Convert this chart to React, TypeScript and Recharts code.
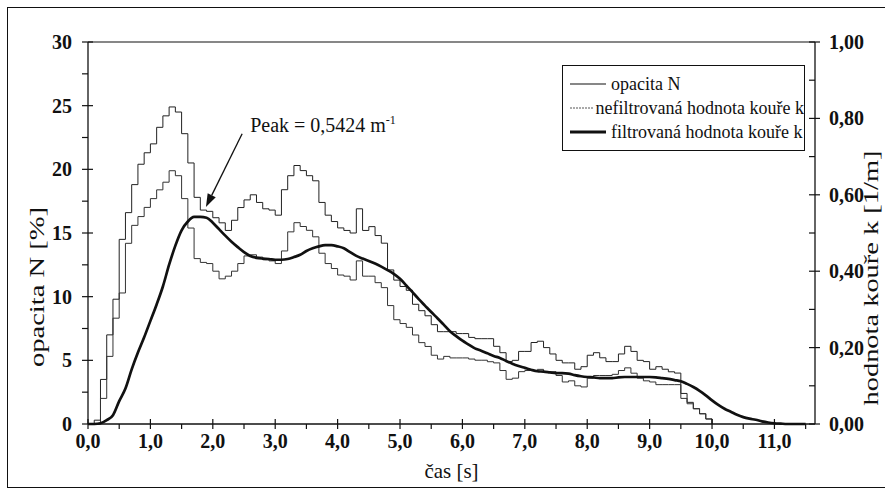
import React from 'react'
import { ComposedChart, Line, XAxis, YAxis, Legend, ReferenceLine, Label } from 'recharts'

// time grid step in seconds
const STEP = 0.1

// opacita N [%], read every 0.1 s
const opacityN = [
  0, 0.3, 3.5, 7.0, 9.8, 14.5, 16.6, 18.8, 20.4, 21.3,
  22.0, 23.3, 24.2, 24.9, 24.5, 22.8, 20.5, 17.8, 16.8, 16.7,
  16.2, 15.8, 15.2, 16.0, 17.0, 17.6, 18.0, 17.4, 16.9, 16.8,
  16.4, 18.4, 19.5, 20.3, 19.9, 19.5, 19.1, 17.4, 16.4, 15.9,
  15.4, 15.2, 15.0, 16.9, 15.2, 15.5, 14.8, 14.2, 12.1, 11.3,
  10.8, 10.5, 9.4, 8.9, 8.5, 7.8, 7.25, 7.25, 7.25, 7.1,
  7.1, 6.8, 6.7, 6.7, 6.7, 6.1, 5.6, 4.9, 5.0, 5.7,
  5.7, 6.4, 6.5, 6.0, 5.5, 5.0, 4.8, 4.8, 4.3, 4.5,
  5.4, 5.6, 5.2, 4.9, 4.9, 5.5, 6.1, 5.7, 5.0, 4.9,
  4.3, 4.5, 4.3, 4.1, 4.0, 2.4, 1.7, 1.2, 0.8, 0.4,
  0,
]

// nefiltrovaná hodnota kouře k [1/m]
const kRaw = [
  0, 0, 0.067, 0.177, 0.277, 0.343, 0.473, 0.520, 0.543, 0.567,
  0.590, 0.613, 0.633, 0.663, 0.650, 0.590, 0.513, 0.433, 0.423, 0.420,
  0.400, 0.380, 0.387, 0.400, 0.420, 0.440, 0.443, 0.437, 0.430, 0.427,
  0.420, 0.453, 0.503, 0.527, 0.517, 0.507, 0.490, 0.447, 0.420, 0.407,
  0.390, 0.387, 0.377, 0.427, 0.387, 0.387, 0.370, 0.357, 0.310, 0.273,
  0.263, 0.253, 0.233, 0.213, 0.203, 0.180, 0.170, 0.177, 0.173, 0.173,
  0.173, 0.170, 0.167, 0.167, 0.163, 0.160, 0.140, 0.117, 0.120, 0.137,
  0.140, 0.140, 0.143, 0.137, 0.137, 0.127, 0.110, 0.113, 0.100, 0.097,
  0.120, 0.127, 0.127, 0.127, 0.130, 0.140, 0.147, 0.133, 0.120, 0.113,
  0.110, 0.103, 0.103, 0.103, 0.103, 0.067, 0.053, 0.040, 0.027, 0.013,
  0,
]

// filtrovaná hodnota kouře k [1/m]
const kFiltered = [
  0, 0, 0.002, 0.010, 0.023, 0.060, 0.093, 0.143, 0.187, 0.227,
  0.270, 0.313, 0.360, 0.417, 0.467, 0.507, 0.530, 0.542, 0.5424, 0.540,
  0.527, 0.510, 0.493, 0.477, 0.463, 0.450, 0.440, 0.435, 0.433, 0.432,
  0.430, 0.430, 0.432, 0.437, 0.443, 0.453, 0.460, 0.465, 0.468, 0.468,
  0.465, 0.460, 0.450, 0.440, 0.433, 0.427, 0.420, 0.412, 0.403, 0.393,
  0.380, 0.363, 0.345, 0.327, 0.310, 0.293, 0.277, 0.260, 0.243, 0.230,
  0.218, 0.208, 0.198, 0.192, 0.185, 0.178, 0.173, 0.165, 0.158, 0.152,
  0.147, 0.142, 0.138, 0.137, 0.135, 0.133, 0.133, 0.132, 0.128, 0.125,
  0.123, 0.122, 0.120, 0.120, 0.120, 0.122, 0.123, 0.123, 0.123, 0.123,
  0.123, 0.122, 0.120, 0.118, 0.115, 0.112, 0.105, 0.097, 0.087, 0.075,
  0.062, 0.050, 0.040, 0.032, 0.024, 0.018, 0.014, 0.011, 0.007, 0.004,
  0.002, 0.001, 0, 0, 0, 0,
]

const xTicks = [0, 0.5, 1, 1.5, 2, 2.5, 3, 3.5, 4, 4.5, 5, 5.5, 6, 6.5, 7, 7.5, 8, 8.5, 9, 9.5, 10, 10.5, 11, 11.5]
const leftTicks = [0, 2.5, 5, 7.5, 10, 12.5, 15, 17.5, 20, 22.5, 25, 27.5, 30]
const rightTicks = [0, 0.1, 0.2, 0.3, 0.4, 0.5, 0.6, 0.7, 0.8, 0.9, 1]

const seriesNames = ['opacita N', 'nefiltrovaná hodnota kouře k', 'filtrovaná hodnota kouře k']
const peakLabel = 'Peak = 0,5424 m'
// arrow from the label down to the filtered peak (t [s], k [1/m])
const peakArrow = [{ x: 2.47, y: 0.76 }, { x: 1.89, y: 0.568 }]

const data = kFiltered.map((kf, i) => ({
  t: Math.round(i * STEP * 10) / 10,
  n: opacityN[i] ?? null,
  kr: kRaw[i] ?? null,
  kf,
}))

const FONT = '"Liberation Serif", "Times New Roman", serif'
const INK = '#111'

const comma = (v: number, d: number) => v.toFixed(d).replace('.', ',')
const isMult = (v: number, m: number) => Math.abs(v / m - Math.round(v / m)) < 1e-6

function XTick({ x, y, payload }: any) {
  const v = payload.value
  const major = isMult(v, 1)
  return (
    <g>
      <line x1={x} x2={x} y1={major ? y - 5 : y} y2={y + 5} stroke={INK} strokeWidth={1.2} />
      {major && (
        <text x={x} y={y + 24} textAnchor="middle" fontFamily={FONT} fontSize={20} fontWeight="bold" fill={INK}>
          {comma(v, 1)}
        </text>
      )}
    </g>
  )
}

function LeftTick({ x, y, payload }: any) {
  const v = payload.value
  const major = isMult(v, 5)
  return (
    <g>
      <line x1={x - 6} x2={major ? x + 5 : x} y1={y} y2={y} stroke={INK} strokeWidth={1.2} />
      {major && (
        <text x={x - 16} y={y + 7} textAnchor="end" fontFamily={FONT} fontSize={20} fontWeight="bold" fill={INK}>
          {v}
        </text>
      )}
    </g>
  )
}

function RightTick({ x, y, payload }: any) {
  const v = payload.value
  const major = isMult(v, 0.2)
  return (
    <g>
      <line x1={x - 6} x2={major ? x + 5 : x} y1={y} y2={y} stroke={INK} strokeWidth={1.2} />
      {major && (
        <text x={x + 14} y={y + 7} textAnchor="start" fontFamily={FONT} fontSize={20} fontWeight="bold" fill={INK}>
          {comma(v, 2)}
        </text>
      )}
    </g>
  )
}

function PeakArrow({ x1, y1, x2, y2 }: any) {
  const ang = Math.atan2(y2 - y1, x2 - x1)
  const len = 13
  const w = 4.5
  const bx = x2 - len * Math.cos(ang)
  const by = y2 - len * Math.sin(ang)
  const px = -Math.sin(ang) * w
  const py = Math.cos(ang) * w
  return (
    <g>
      <line x1={x1} y1={y1} x2={bx} y2={by} stroke={INK} strokeWidth={1.3} />
      <polygon points={`${x2},${y2} ${bx + px},${by + py} ${bx - px},${by - py}`} fill={INK} />
      <text x={x1 + 8} y={y1 - 2} fontFamily={FONT} fontSize={20} fill={INK}>
        {peakLabel}
        <tspan dy={-8} fontSize={12}>-1</tspan>
      </text>
    </g>
  )
}

const legendLines = [
  { stroke: INK, width: 1.2, dash: undefined },
  { stroke: '#555', width: 1, dash: '2 1' },
  { stroke: INK, width: 2.8, dash: undefined },
]

function LegendBox() {
  return (
    <div style={{ border: `1.2px solid ${INK}`, padding: '6px 0 6px 7px', background: '#fff', fontFamily: FONT, fontSize: 18, color: INK }}>
      {seriesNames.map((name, i) => (
        <div key={name} style={{ display: 'flex', alignItems: 'center', height: 24, whiteSpace: 'nowrap' }}>
          <svg width={38} height={10} style={{ marginRight: 3 }}>
            <line x1={0} x2={36} y1={5} y2={5} stroke={legendLines[i].stroke} strokeWidth={legendLines[i].width} strokeDasharray={legendLines[i].dash} />
          </svg>
          {name}
        </div>
      ))}
    </div>
  )
}

export default function App() {
  return (
    <div style={{ position: 'absolute', left: 0, top: 0, width: 885, height: 497, overflow: 'hidden', background: '#fff' }}>
      <div style={{ position: 'absolute', left: 7, top: 7, width: 900, height: 479, border: `1.5px solid ${INK}` }} />
      <div style={{ position: 'absolute', left: 0, top: 0 }}>
        <ComposedChart width={885} height={497} data={data} margin={{ top: 42, right: 0, left: 0, bottom: 0 }}>
          <XAxis
            dataKey="t"
            type="number"
            domain={[0, 11.65]}
            ticks={xTicks}
            interval={0}
            height={73}
            tickSize={0}
            tickMargin={0}
            tickLine={false}
            tick={<XTick />}
            axisLine={{ stroke: INK, strokeWidth: 1.3 }}
          >
            <Label
              content={({ viewBox }: any) => (
                <text x={viewBox.x + viewBox.width / 2} y={viewBox.y + 54} textAnchor="middle" fontFamily={FONT} fontSize={21} fill={INK}>
                  čas [s]
                </text>
              )}
            />
          </XAxis>
          <YAxis
            yAxisId="left"
            domain={[0, 30]}
            ticks={leftTicks}
            interval={0}
            width={88}
            tickSize={0}
            tickMargin={0}
            tickLine={false}
            tick={<LeftTick />}
            axisLine={{ stroke: INK, strokeWidth: 1.3 }}
          >
            <Label
              content={() => (
                <text transform="translate(44,287) rotate(-90)" textAnchor="middle" fontFamily={FONT} fontSize={22} fill={INK}
                  textLength={160} lengthAdjust="spacingAndGlyphs">
                  opacita N [%]
                </text>
              )}
            />
          </YAxis>
          <YAxis
            yAxisId="right"
            orientation="right"
            domain={[0, 1]}
            ticks={rightTicks}
            interval={0}
            width={70}
            tickSize={0}
            tickMargin={0}
            tickLine={false}
            tick={<RightTick />}
            axisLine={{ stroke: INK, strokeWidth: 1.3 }}
          >
            <Label
              content={() => (
                <text transform="translate(878,278) rotate(-90)" textAnchor="middle" fontFamily={FONT} fontSize={22} fill={INK}
                  textLength={255} lengthAdjust="spacingAndGlyphs">
                  hodnota kouře k [1/m]
                </text>
              )}
            />
          </YAxis>
          <ReferenceLine yAxisId="left" y={30} stroke={INK} strokeWidth={1.2} />
          <Legend
            layout="horizontal"
            verticalAlign="middle"
            align="center"
            content={() => <LegendBox />}
            wrapperStyle={{ left: 562, top: 65, width: 243 }}
          />
          <Line yAxisId="left" dataKey="n" name={seriesNames[0]} type="stepAfter" stroke="#222" strokeWidth={1} dot={false} activeDot={false} isAnimationActive={false} />
          <Line yAxisId="right" dataKey="kr" name={seriesNames[1]} type="stepAfter" stroke="#333" strokeWidth={1} dot={false} activeDot={false} isAnimationActive={false} />
          <Line yAxisId="right" dataKey="kf" name={seriesNames[2]} type="monotone" stroke={INK} strokeWidth={2.7} dot={false} activeDot={false} isAnimationActive={false} />
          <ReferenceLine yAxisId="right" segment={peakArrow} shape={<PeakArrow />} />
        </ComposedChart>
      </div>
    </div>
  )
}
